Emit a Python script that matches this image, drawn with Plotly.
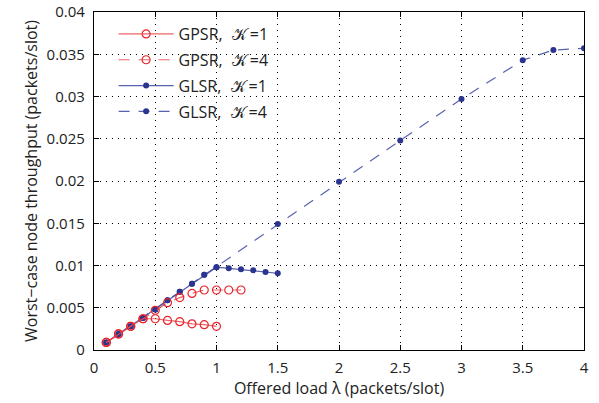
import plotly.graph_objects as go

x_gpsr1 = [0.1, 0.2, 0.3, 0.4, 0.5, 0.6, 0.7, 0.8, 0.9, 1.0]
y_gpsr1 = [0.0009, 0.0019, 0.0028, 0.0037, 0.0037, 0.0035, 0.00335, 0.0031, 0.0030, 0.0028]

x_gpsr4 = [0.1, 0.2, 0.3, 0.4, 0.5, 0.6, 0.7, 0.8, 0.9, 1.0, 1.1, 1.2]
y_gpsr4 = [0.0009, 0.0019, 0.0028, 0.0037, 0.0047, 0.0056, 0.0062, 0.0067, 0.0071, 0.0071, 0.0071, 0.0071]

x_glsr1 = [0.1, 0.2, 0.3, 0.4, 0.5, 0.6, 0.7, 0.8, 0.9, 1.0, 1.1, 1.2, 1.3, 1.4, 1.5]
y_glsr1 = [0.0009, 0.0019, 0.0028, 0.0038, 0.0048, 0.0059, 0.0069, 0.00785, 0.0089, 0.0098,
           0.00967, 0.00955, 0.00943, 0.00923, 0.00907]

x_glsr4 = [0.1, 0.2, 0.3, 0.4, 0.5, 0.6, 0.7, 0.8, 0.9, 1.0, 1.5, 2.0, 2.5, 3.0, 3.5, 3.75, 4.0]
y_glsr4 = [0.0009, 0.0019, 0.0028, 0.0038, 0.0048, 0.0059, 0.0069, 0.00785, 0.0089, 0.0098,
           0.0149, 0.0199, 0.0248, 0.0297, 0.0343, 0.0355, 0.0357]

x_ticks = [0, 0.5, 1, 1.5, 2, 2.5, 3, 3.5, 4]
x_tick_labels = ["0", "0.5", "1", "1.5", "2", "2.5", "3", "3.5", "4"]
y_ticks = [0, 0.005, 0.01, 0.015, 0.02, 0.025, 0.03, 0.035, 0.04]
y_tick_labels = ["0", "0.005", "0.01", "0.015", "0.02", "0.025", "0.03", "0.035", "0.04"]

RED = "#e8252b"
RED_LINE = "rgba(236,70,75,0.85)"
BLUE = "#2b3590"
BLUE_LINE = "rgba(60,70,160,0.85)"
K = "\u2009\u2009𝒦\u2009"
FONT = "Open Sans"

fig = go.Figure()
fig.add_trace(go.Scatter(x=x_glsr4, y=y_glsr4, mode="lines+markers", name=f"GLSR, {K}=4",
                         legendgroup="d", line=dict(color=BLUE_LINE, width=1.2, dash="11px,9px"),
                         marker=dict(color=BLUE, size=6, symbol="circle"), legendrank=4))
fig.add_trace(go.Scatter(x=x_glsr1, y=y_glsr1, mode="lines+markers", name=f"GLSR, {K}=1",
                         legendgroup="c", line=dict(color=BLUE_LINE, width=1.2),
                         marker=dict(color=BLUE, size=6, symbol="circle"), legendrank=3))
fig.add_trace(go.Scatter(x=x_gpsr4, y=y_gpsr4, mode="lines+markers", name=f"GPSR, {K}=4",
                         legendgroup="b", line=dict(color=RED_LINE, width=1.2, dash="11px,9px"),
                         marker=dict(color=RED, size=8, symbol="circle-open", line=dict(width=1.2)),
                         legendrank=2))
fig.add_trace(go.Scatter(x=x_gpsr1, y=y_gpsr1, mode="lines+markers", name=f"GPSR, {K}=1",
                         legendgroup="a", line=dict(color=RED_LINE, width=1.2),
                         marker=dict(color=RED, size=8, symbol="circle-open", line=dict(width=1.2)),
                         legendrank=1))

axis_common = dict(
    showgrid=True, gridcolor="black", griddash="1px,5px", gridwidth=1,
    zeroline=False, showline=True, linecolor="black", linewidth=1.3, mirror="ticks",
    ticks="inside", ticklen=5, tickcolor="black", automargin=False,
    tickfont=dict(family=FONT, size=15, color="#222"),
)

fig.update_layout(
    width=599, height=403,
    margin=dict(l=94, r=15, t=12, b=53),
    paper_bgcolor="white", plot_bgcolor="white",
    font=dict(family=FONT, size=15, color="#222"),
    showlegend=True,
    legend=dict(x=0.04, y=0.985, xanchor="left", yanchor="top", bgcolor="rgba(255,255,255,0)",
                font=dict(family=FONT, size=16, color="#222"), itemwidth=55, tracegroupgap=2),
    xaxis=dict(range=[0, 4], tickvals=x_ticks, ticktext=x_tick_labels, ticklabelstandoff=4,
               title=dict(text="Offered load λ (packets/slot)", font=dict(family=FONT, size=16), standoff=2),
               **axis_common),
    yaxis=dict(range=[0, 0.04], tickvals=y_ticks, ticktext=y_tick_labels, ticklabelstandoff=5,
               title=dict(text="Worst−case node throughput (packets/slot)", font=dict(family=FONT, size=16), standoff=4),
               **axis_common),
)

fig.write_html("out.html", config={"displayModeBar": False},
               post_script="document.body.style.margin='0';document.body.style.overflow='hidden';")
